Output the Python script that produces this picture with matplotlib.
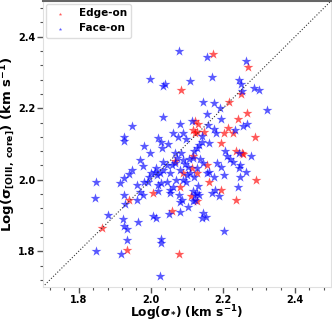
import matplotlib
matplotlib.use("Agg")
import matplotlib.pyplot as plt
from matplotlib.ticker import MultipleLocator

# --- datos ---
edge_x = [2.172, 2.271, 2.084, 2.250, 2.218, 2.266, 2.242, 2.123, 2.132, 2.215,
          2.118, 2.123, 2.204, 2.227, 2.288, 2.148, 2.195, 2.236, 2.253, 2.257,
          2.118, 2.067, 2.157, 2.113, 2.127, 2.090, 2.292, 2.161, 2.081, 2.195,
          2.006, 2.111, 1.940, 2.237, 2.129, 2.058, 1.864, 1.935, 2.077, 2.127]
edge_y = [2.352, 2.315, 2.250, 2.241, 2.218, 2.187, 2.169, 2.165, 2.156, 2.144,
          2.139, 2.131, 2.131, 2.131, 2.120, 2.134, 2.102, 2.081, 2.076, 2.071,
          2.067, 2.052, 2.042, 2.032, 2.019, 2.019, 2.000, 1.993, 1.980, 1.972,
          1.963, 1.954, 1.944, 1.944, 1.940, 1.912, 1.866, 1.804, 1.792, 2.134]

face_x = [2.079, 2.157, 2.265, 2.169, 1.999, 2.110, 2.245, 2.249, 2.039, 2.034,
          2.287, 2.299, 2.144, 2.176, 2.322, 2.192, 2.155, 2.034, 1.949, 2.081,
          2.113, 2.196, 2.266, 2.255, 2.176, 2.182, 2.234, 2.160, 1.925, 1.925,
          2.020, 2.029, 2.048, 2.062, 2.076, 2.088, 2.099, 2.141, 1.980, 2.067,
          2.032, 1.999, 1.971, 1.978, 1.949, 1.940, 1.915, 1.925, 1.849, 1.962,
          1.982, 1.992, 1.994, 2.001, 2.011, 2.017, 2.025, 2.034, 2.034, 2.044,
          2.053, 2.058, 2.067, 2.073, 2.081, 2.090, 2.096, 2.104, 2.107, 2.116,
          2.120, 2.127, 2.135, 2.141, 2.162, 2.085, 2.137, 2.146, 2.155, 2.162,
          2.174, 2.183, 2.194, 2.203, 2.206, 2.211, 2.220, 2.229, 2.248, 2.246,
          2.248, 2.265, 2.278, 2.246, 2.241, 2.015, 2.044, 2.053, 2.062, 2.071,
          2.088, 2.099, 2.110, 2.100, 2.120, 2.127, 2.020, 2.029, 2.020, 2.053,
          2.078, 2.086, 2.081, 2.102, 2.118, 2.123, 2.127, 2.133, 2.123, 2.116,
          2.169, 2.179, 2.190, 2.131, 2.146, 2.141, 2.153, 2.081, 2.051, 2.006,
          2.015, 1.977, 1.970, 1.961, 1.925, 1.927, 1.845, 1.880, 1.922, 1.925,
          1.934, 1.964, 1.934, 2.029, 2.029, 2.203, 1.847, 1.918, 2.025, 2.252]
face_y = [2.359, 2.343, 2.331, 2.287, 2.282, 2.275, 2.278, 2.269, 2.269, 2.261,
          2.257, 2.252, 2.218, 2.215, 2.194, 2.202, 2.185, 2.176, 2.150, 2.157,
          2.165, 2.171, 2.157, 2.150, 2.141, 2.130, 2.139, 2.153, 2.120, 2.109,
          2.116, 2.106, 2.100, 2.130, 2.120, 2.131, 2.113, 2.122, 2.094, 2.074,
          2.088, 2.076, 2.056, 2.039, 2.026, 2.017, 1.991, 2.005, 1.995, 1.986,
          1.993, 1.995, 2.009, 2.019, 2.021, 2.014, 2.019, 2.051, 2.028, 2.042,
          2.019, 2.042, 2.046, 2.060, 2.028, 2.056, 2.044, 2.037, 2.057, 2.060,
          2.079, 2.088, 2.097, 2.106, 2.104, 2.076, 2.057, 2.046, 2.019, 2.023,
          2.009, 2.046, 2.037, 2.014, 2.079, 2.065, 2.057, 2.051, 2.042, 2.032,
          2.009, 2.023, 2.067, 2.076, 1.981, 2.033, 1.995, 1.972, 1.981, 2.000,
          2.000, 1.993, 2.019, 2.014, 2.009, 2.032, 1.986, 1.991, 1.968, 1.963,
          1.956, 1.944, 1.937, 1.924, 1.968, 1.958, 1.963, 1.956, 1.944, 1.940,
          1.963, 1.970, 1.954, 1.983, 1.907, 1.894, 1.896, 1.909, 1.903, 1.898,
          1.894, 1.956, 1.965, 1.944, 1.956, 1.933, 1.949, 1.900, 1.889, 1.870,
          1.861, 1.881, 1.831, 1.833, 1.824, 1.856, 1.801, 1.792, 1.731, 2.248]

plt.rcParams['mathtext.default'] = 'bf'

fig = plt.figure(figsize=(3.32, 3.22), dpi=100)
ax = fig.add_axes([0.1286, 0.1087, 0.8684, 0.8883])

ax.scatter(edge_x, edge_y, marker='*', s=55, color='red', alpha=0.65,
           linewidths=0, label='Edge-on')
ax.scatter(face_x, face_y, marker='*', s=55, color='blue', alpha=0.65,
           linewidths=0, label='Face-on')

# linea 1:1
ax.plot([1.7, 2.5], [1.7, 2.5], ls=':', color='#333333', lw=0.8)

ax.set_xlim(1.7, 2.5)
ax.set_ylim(1.7, 2.5)
ax.xaxis.set_major_locator(MultipleLocator(0.2))
ax.yaxis.set_major_locator(MultipleLocator(0.2))
ax.xaxis.set_minor_locator(MultipleLocator(0.04))
ax.yaxis.set_minor_locator(MultipleLocator(0.04))
ax.tick_params(which='major', direction='out', length=4, width=1, color='#555555',
               labelsize=7, pad=1.5)
ax.tick_params(which='minor', direction='out', length=2.5, width=0.8, color='#555555')
for lab in ax.get_xticklabels() + ax.get_yticklabels():
    lab.set_fontweight('bold')

for side in ['left', 'bottom', 'right']:
    ax.spines[side].set_color('#e0e0e0')
    ax.spines[side].set_linewidth(0.8)
ax.spines['top'].set_color('#666666')
ax.spines['top'].set_linewidth(1.5)

ax.set_xlabel(r'Log($\sigma_{*}$) (km s$^{-1}$)', fontsize=8.8, fontweight='bold')
ax.set_ylabel(r'Log($\sigma_{[OIII,\ core]}$) (km s$^{-1}$)', fontsize=9.5,
              fontweight='bold')
ax.xaxis.set_label_coords(0.5, -0.058)
ax.yaxis.set_label_coords(-0.085, 0.5)

leg = ax.legend(loc='upper left', markerscale=0.35, prop={'weight': 'bold', 'size': 7.5},
                borderaxespad=0.3, handletextpad=0.8, framealpha=1)
leg.get_frame().set_edgecolor('#dddddd')

fig.savefig('out.png', dpi=100)
